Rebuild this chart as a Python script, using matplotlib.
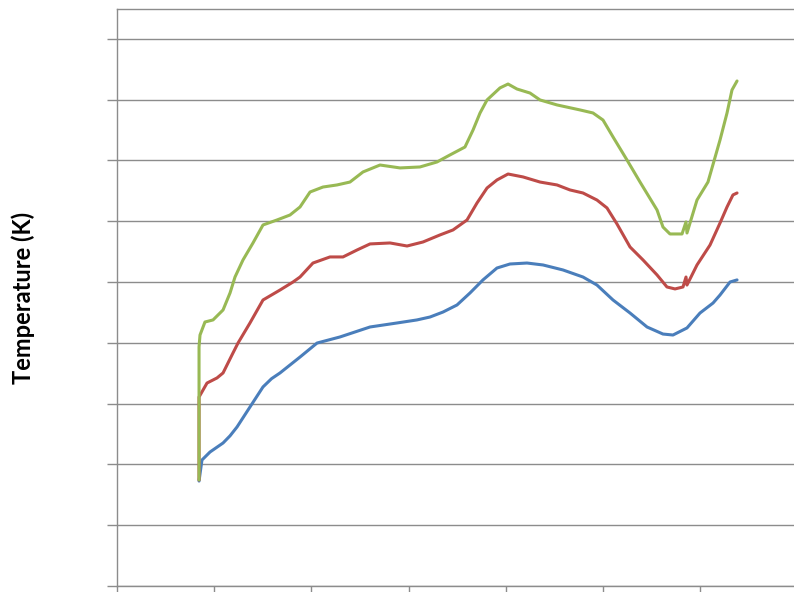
import matplotlib
matplotlib.use("Agg")
import matplotlib.pyplot as plt

# time axis (arbitrary units, one tick per unit) and temperatures in K
x_azul = [0.844, 0.874, 0.957, 1.091, 1.163, 1.235, 1.368, 1.502, 1.590, 1.677,
          1.883, 2.058, 2.294, 2.603, 2.881, 3.086, 3.220, 3.354, 3.498, 3.632,
          3.765, 3.909, 4.043, 4.218, 4.383, 4.588, 4.794, 4.938, 5.103, 5.278,
          5.453, 5.617, 5.720, 5.864, 5.998, 6.132, 6.204, 6.307, 6.379]
t_azul = [86.3, 103.6, 110.2, 117.6, 123.5, 130.8, 147.2, 163.7, 170.5, 175.2,
          188.3, 199.8, 204.8, 213.0, 216.3, 218.8, 221.2, 225.3, 231.1, 241.0,
          251.7, 261.5, 264.8, 265.6, 264.0, 259.9, 254.1, 247.5, 235.2, 224.5,
          213.0, 207.2, 206.4, 212.2, 224.5, 232.7, 239.3, 250.0, 251.7]

x_rojo = [0.844, 0.844, 0.926, 1.029, 1.091, 1.193, 1.245, 1.368, 1.502, 1.677,
          1.811, 1.883, 2.016, 2.191, 2.325, 2.469, 2.603, 2.809, 2.984, 3.148,
          3.323, 3.457, 3.601, 3.704, 3.807, 3.909, 4.023, 4.177, 4.352, 4.527,
          4.660, 4.794, 4.938, 5.041, 5.144, 5.278, 5.412, 5.556, 5.658, 5.741,
          5.823, 5.854, 5.864, 5.967, 6.101, 6.204, 6.276, 6.337, 6.379]
t_rojo = [87.2, 155.4, 166.9, 171.1, 175.2, 191.6, 199.8, 216.3, 235.2, 243.4,
          250.0, 254.1, 265.6, 270.6, 270.6, 276.3, 281.3, 282.1, 279.6, 282.9,
          288.7, 292.8, 301.0, 315.0, 327.3, 333.9, 338.8, 336.4, 332.2, 329.8,
          325.7, 323.2, 317.4, 310.9, 297.7, 278.8, 268.1, 255.8, 245.9, 244.3,
          245.9, 254.1, 247.5, 264.0, 280.4, 298.5, 311.7, 321.6, 323.2]

x_verde = [0.844, 0.844, 0.854, 0.905, 0.988, 1.091, 1.163, 1.214, 1.296, 1.399,
           1.502, 1.646, 1.780, 1.883, 1.986, 2.119, 2.263, 2.397, 2.531, 2.706,
           2.912, 3.117, 3.292, 3.426, 3.580, 3.663, 3.735, 3.807, 3.940, 4.023,
           4.115, 4.249, 4.352, 4.527, 4.763, 4.897, 5.000, 5.103, 5.247, 5.381,
           5.556, 5.617, 5.689, 5.813, 5.854, 5.864, 5.967, 6.080, 6.204, 6.276,
           6.327, 6.379]
t_verde = [87.2, 196.6, 206.4, 217.1, 218.8, 227.0, 241.0, 254.1, 268.1, 282.1,
           296.9, 301.0, 305.1, 311.7, 324.0, 328.1, 329.8, 332.2, 340.5, 346.2,
           343.8, 344.6, 348.7, 354.5, 361.0, 375.0, 389.0, 399.7, 409.6, 412.8,
           408.7, 405.4, 399.7, 395.6, 391.5, 389.0, 383.2, 369.3, 350.3, 332.2,
           309.2, 295.2, 289.5, 289.5, 299.4, 290.3, 317.4, 332.2, 366.8, 389.0,
           407.9, 415.3]

series = [
    (x_azul, t_azul, "#4a7ebb"),
    (x_rojo, t_rojo, "#be4b48"),
    (x_verde, t_verde, "#98b954"),
]

gris = "#8c8c8c"

fig = plt.figure(figsize=(7.94, 5.92), dpi=100)
ax = fig.add_axes([117 / 794, 6 / 592, 1 - 117 / 794, 577 / 592])

for xs, ts, color in series:
    ax.plot(xs, ts, color=color, lw=2.2, solid_joinstyle="round",
            solid_capstyle="round", zorder=3)

ax.set_xlim(0, 6.965)
ax.set_ylim(0, 474.5)
ax.set_xticks(range(0, 7))
ax.set_yticks(range(0, 451, 50))
ax.set_xticklabels([])
ax.set_yticklabels([])
ax.grid(axis="y", color=gris, lw=1.0)
ax.set_axisbelow(True)

ax.tick_params(axis="y", direction="out", length=7, width=1, color=gris)
ax.tick_params(axis="x", direction="out", length=6, width=1, color=gris)

for lado in ["left", "bottom", "top"]:
    ax.spines[lado].set_color(gris)
    ax.spines[lado].set_linewidth(1.0)
ax.spines["right"].set_visible(False)

fig.text(23 / 794, 1 - 298 / 592, "Temperature (K)", rotation=90,
         ha="center", va="center", fontsize=17, fontweight="bold",
         family="Lato")

fig.savefig("out.png", dpi=100)
